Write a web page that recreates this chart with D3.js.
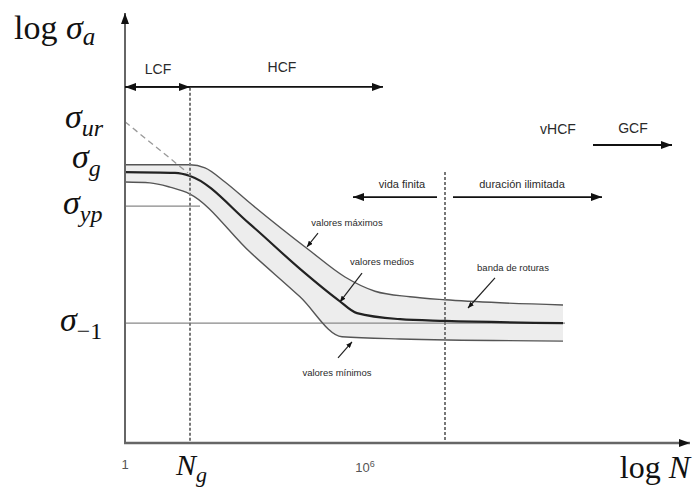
<!DOCTYPE html>
<html>
<head>
<meta charset="utf-8">
<script src="https://cdn.jsdelivr.net/npm/d3@7"></script>
<style>
  body { margin: 0; background: #fff; }
  svg { display: block; }
  .sans { font-family: "Liberation Sans", Arial, sans-serif; fill: #2a2a2a; }
  .math { font-family: "Liberation Serif", "DejaVu Serif", serif; fill: #111; }
</style>
</head>
<body>
<div id="chart"></div>
<script>
// log N (decades) vs log sigma (relative units)
const upperBand = [[0, 0.647], [1.625, 0.647], [2.0, 0.640], [2.5, 0.607], [3.125, 0.558],
  [4.625, 0.447], [5.5, 0.386], [6.25, 0.353], [7.125, 0.340], [8.0, 0.333], [9.375, 0.326], [10.95, 0.321]];
const meanCurve = [[0, 0.630], [1.25, 0.628], [1.625, 0.621], [3.125, 0.509], [4.375, 0.405],
  [5.325, 0.333], [5.8, 0.302], [6.875, 0.288], [8.0, 0.284], [10.95, 0.279]];
const lowerBand = [[0, 0.607], [0.625, 0.605], [1.125, 0.595], [1.625, 0.579], [3.125, 0.444],
  [4.375, 0.340], [5.425, 0.247], [6.875, 0.242], [10.95, 0.237]];

const Ng = 1.625;
const limitN = 8.0;
const sigmaLevels = [
  { name: "ur", value: 0.752, lx: 65 },
  { name: "g", value: 0.657, lx: 72 },
  { name: "yp", value: 0.551, lx: 63 },
  { name: "\u22121", value: 0.279, lx: 60 }
];
const sigmaYp = { value: 0.551, end: 1.875 };
const sigmaFat = { value: 0.279, end: 11.0 };
const ultimateLine = [[0, 0.747], [1.575, 0.628]];

// regions: arrows and labels
const regionArrows = [
  { from: Ng, to: 0, y: 0.828 }, { from: 0, to: Ng, y: 0.828 },
  { from: Ng, to: 6.45, y: 0.828 },
  { from: 11.7, to: 13.675, y: 0.693 },
  { from: 7.8, to: 5.7, y: 0.572 },
  { from: 8.2, to: 11.925, y: 0.572 }
];
const regionLabels = [
  { text: "LCF", x: 0.825, y: 0.858, size: 14 },
  { text: "HCF", x: 3.925, y: 0.862, size: 14 },
  { text: "vHCF", x: 10.825, y: 0.718, size: 14 },
  { text: "GCF", x: 12.7, y: 0.722, size: 14 },
  { text: "vida finita", x: 6.925, y: 0.594, size: 11 },
  { text: "duración ilimitada", x: 9.925, y: 0.594, size: 11 }
];
const callouts = [
  { text: "valores máximos", x: 5.55, y: 0.505, p: [[4.825, 0.488], [4.55, 0.456]] },
  { text: "valores medios", x: 6.425, y: 0.414, p: [[5.925, 0.395], [5.375, 0.328]] },
  { text: "banda de roturas", x: 9.7, y: 0.400, p: [[9.25, 0.384], [8.575, 0.314]] },
  { text: "valores mínimos", x: 5.3, y: 0.156, p: [[5.325, 0.198], [5.675, 0.235]] }
];

const width = 694, height = 490;
const x = d3.scaleLinear().domain([0, 14.125]).range([125, 690]);
const y = d3.scaleLinear().domain([0, 1]).range([443, 13]);

const svg = d3.select("#chart").append("svg")
  .attr("width", width).attr("height", height);

const defs = svg.append("defs");
function marker(id, w, h) {
  defs.append("marker")
    .attr("id", id).attr("viewBox", `0 0 ${w} ${h}`)
    .attr("refX", w).attr("refY", h / 2)
    .attr("markerWidth", w).attr("markerHeight", h)
    .attr("markerUnits", "userSpaceOnUse")
    .attr("orient", "auto")
    .append("path").attr("d", `M0,0L${w},${h / 2}L0,${h}Z`).attr("fill", "#111");
}
marker("arr", 11, 8);
marker("arrSmall", 6, 5);

const line = d3.line().x(d => x(d[0])).y(d => y(d[1])).curve(d3.curveMonotoneX);

// scatter band fill
const bandPath = line(upperBand) + "L" + line(lowerBand.slice().reverse()).slice(1) + "Z";
svg.append("path").attr("d", bandPath).attr("fill", "#ededed");

// reference stress lines
svg.append("line")
  .attr("x1", x(0)).attr("x2", x(sigmaYp.end))
  .attr("y1", y(sigmaYp.value)).attr("y2", y(sigmaYp.value))
  .attr("stroke", "#888").attr("stroke-width", 1.3);
svg.append("line")
  .attr("x1", x(0)).attr("x2", x(sigmaFat.end))
  .attr("y1", y(sigmaFat.value)).attr("y2", y(sigmaFat.value))
  .attr("stroke", "#888").attr("stroke-width", 1.3);
svg.append("path")
  .attr("d", d3.line().x(d => x(d[0])).y(d => y(d[1]))(ultimateLine))
  .attr("fill", "none").attr("stroke", "#999").attr("stroke-width", 1.3)
  .attr("stroke-dasharray", "6,4");

// curves
svg.append("path").attr("d", line(upperBand))
  .attr("fill", "none").attr("stroke", "#555").attr("stroke-width", 1.4);
svg.append("path").attr("d", line(lowerBand))
  .attr("fill", "none").attr("stroke", "#555").attr("stroke-width", 1.4);
svg.append("path").attr("d", line(meanCurve))
  .attr("fill", "none").attr("stroke", "#222").attr("stroke-width", 2.2);

// dotted verticals
svg.append("line")
  .attr("x1", x(Ng)).attr("x2", x(Ng)).attr("y1", y(0.826)).attr("y2", y(0))
  .attr("stroke", "#777").attr("stroke-width", 2).attr("stroke-dasharray", "3,2");
svg.append("line")
  .attr("x1", x(limitN)).attr("x2", x(limitN)).attr("y1", y(0.63)).attr("y2", y(0))
  .attr("stroke", "#777").attr("stroke-width", 2).attr("stroke-dasharray", "3,2");

// axes
svg.append("line")
  .attr("x1", x(0)).attr("x2", x(0)).attr("y1", y(0)).attr("y2", y(1))
  .attr("stroke", "#666").attr("stroke-width", 2).attr("marker-end", "url(#arr)");
svg.append("line")
  .attr("x1", x(0) - 1).attr("x2", x(14.125)).attr("y1", y(0)).attr("y2", y(0))
  .attr("stroke", "#666").attr("stroke-width", 2.5).attr("marker-end", "url(#arr)");

// region arrows
svg.selectAll(".region").data(regionArrows).enter().append("line")
  .attr("x1", d => x(d.from)).attr("x2", d => x(d.to))
  .attr("y1", d => y(d.y)).attr("y2", d => y(d.y))
  .attr("stroke", "#111").attr("stroke-width", 1.8)
  .attr("marker-end", "url(#arr)");

svg.selectAll(".rlabel").data(regionLabels).enter().append("text")
  .attr("class", "sans")
  .attr("x", d => x(d.x)).attr("y", d => y(d.y))
  .attr("text-anchor", "middle")
  .attr("font-size", d => d.size)
  .text(d => d.text);

// callouts
callouts.forEach(c => {
  svg.append("text").attr("class", "sans")
    .attr("x", x(c.x)).attr("y", y(c.y))
    .attr("text-anchor", "middle").attr("font-size", 9.5)
    .text(c.text);
  svg.append("line")
    .attr("x1", x(c.p[0][0])).attr("y1", y(c.p[0][1]))
    .attr("x2", x(c.p[1][0])).attr("y2", y(c.p[1][1]))
    .attr("stroke", "#222").attr("stroke-width", 1.2)
    .attr("marker-end", "url(#arrSmall)");
});

// axis titles
const yt = svg.append("text").attr("class", "math").attr("x", 14).attr("y", 39).attr("font-size", 34);
yt.append("tspan").text("log ");
yt.append("tspan").attr("font-style", "italic").text("σ");
yt.append("tspan").attr("font-style", "italic").attr("font-size", 25).attr("dy", 6).text("a");

const xt = svg.append("text").attr("class", "math").attr("x", 690).attr("y", 478)
  .attr("font-size", 32).attr("text-anchor", "end");
xt.append("tspan").text("log ");
xt.append("tspan").attr("font-style", "italic").text("N");

// sigma labels
sigmaLevels.forEach(s => {
  const t = svg.append("text").attr("class", "math")
    .attr("x", s.lx).attr("y", y(s.value) + 8).attr("font-size", 34);
  t.append("tspan").attr("font-style", "italic").text("σ");
  t.append("tspan").attr("font-size", 24).attr("dy", 8)
    .attr("font-style", s.name === "\u22121" ? "normal" : "italic")
    .text(s.name);
});

// x tick labels
svg.append("text").attr("class", "sans")
  .attr("x", x(0)).attr("y", 469).attr("text-anchor", "middle")
  .attr("font-size", 13).style("fill", "#555").text("1");
const ngT = svg.append("text").attr("class", "math")
  .attr("x", x(Ng) - 14).attr("y", 475).attr("font-size", 30);
ngT.append("tspan").attr("font-style", "italic").text("N");
ngT.append("tspan").attr("font-style", "italic").attr("font-size", 22).attr("dy", 7).text("g");
const sixT = svg.append("text").attr("class", "sans")
  .attr("x", x(6)).attr("y", 472).attr("text-anchor", "middle")
  .attr("font-size", 13).style("fill", "#555");
sixT.append("tspan").text("10");
sixT.append("tspan").attr("font-size", 9).attr("dy", -5).text("6");
</script>
</body>
</html>
